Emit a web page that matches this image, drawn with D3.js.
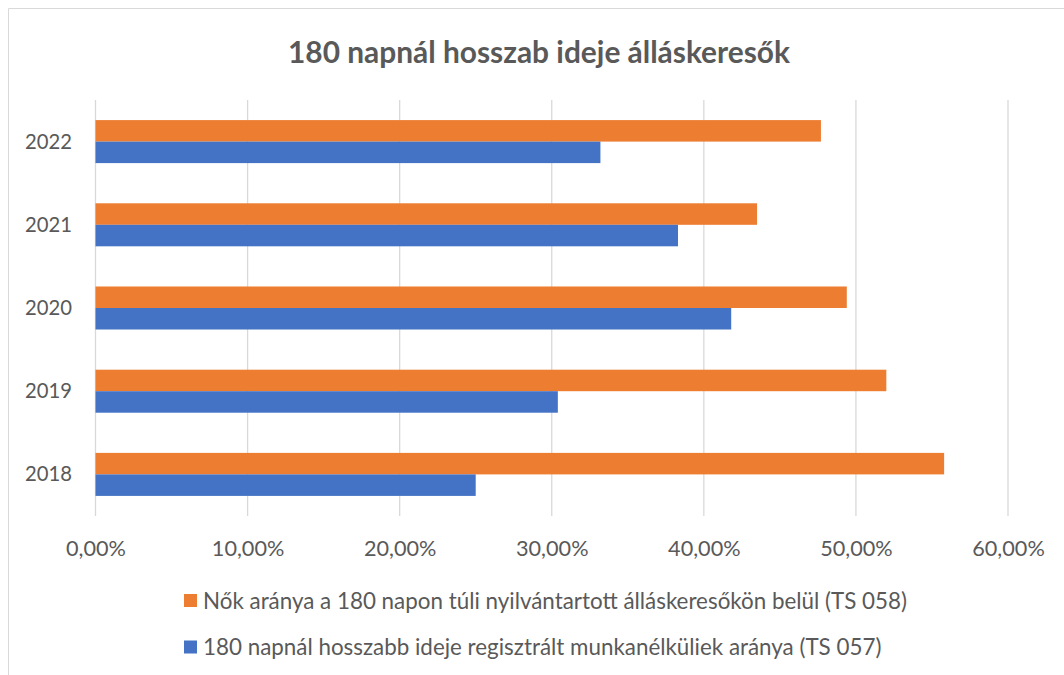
<!DOCTYPE html>
<html>
<head>
<meta charset="utf-8">
<script src="https://cdn.jsdelivr.net/npm/d3@7"></script>
<style>
  body { margin: 0; background: #fff; }
  text { font-family: Lato, "Open Sans", sans-serif; fill: #595959; }
</style>
</head>
<body>
<div class="canvas"></div>
<script>
const years = ['2022', '2021', '2020', '2019', '2018'];
const seriesNames = [
  'Nők aránya a 180 napon túli nyilvántartott álláskeresőkön belül (TS 058)',
  '180 napnál hosszabb ideje regisztrált munkanélküliek aránya (TS 057)'
];
// shares, same order as years
const womenShare = [0.477, 0.435, 0.494, 0.520, 0.558];
const longTermShare = [0.332, 0.383, 0.418, 0.304, 0.250];
const xTicks = [0, 0.1, 0.2, 0.3, 0.4, 0.5, 0.6];
const colours = ['#ED7D31', '#4472C4'];

const width = 1064, height = 675;
const plot = { left: 95.5, right: 1008, top: 100, bottom: 516 };

const svg = d3.select('.canvas')
  .append('svg')
  .attr('width', width)
  .attr('height', height);

// scale a text selection so that its first node is as wide as the reference
function fitWidth(sel, target, start) {
  sel.style('font-size', start + 'px');
  const w = sel.node().getComputedTextLength();
  sel.style('font-size', (start * target / w).toFixed(2) + 'px');
}

// chart frame
svg.append('path')
  .attr('d', `M8.5,${height} V8.5 H${width}`)
  .attr('fill', 'none')
  .attr('stroke', '#d9d9d9')
  .attr('stroke-width', 1);

const x = d3.scaleLinear().domain([0, 0.6]).range([plot.left, plot.right]);
const y = d3.scaleBand().domain(years).range([plot.top, plot.bottom])
  .paddingInner(0.483).paddingOuter(0.2415);
const ySub = d3.scaleBand().domain([0, 1]).range([0, y.bandwidth()]);

// gridlines
svg.append('g')
  .selectAll('line')
  .data(xTicks)
  .enter()
  .append('line')
  .attr('x1', d => x(d))
  .attr('x2', d => x(d))
  .attr('y1', plot.top)
  .attr('y2', plot.bottom)
  .attr('stroke', '#d9d9d9')
  .attr('stroke-width', 1.3);

const rows = years.map((yr, i) => ({ year: yr, values: [womenShare[i], longTermShare[i]] }));

const groups = svg.append('g')
  .selectAll('g')
  .data(rows)
  .enter()
  .append('g')
  .attr('transform', d => `translate(0, ${y(d.year)})`);

groups.selectAll('rect')
  .data(d => d.values)
  .enter()
  .append('rect')
  .attr('x', x(0))
  .attr('y', (d, i) => ySub(i))
  .attr('width', d => x(d) - x(0))
  .attr('height', ySub.bandwidth())
  .attr('fill', (d, i) => colours[i]);

// x axis labels
const fmt = d => d3.format('.2f')(d * 100).replace('.', ',') + '%';
const xAxis = d3.axisBottom(x).tickValues(xTicks).tickFormat(fmt).tickSize(0).tickPadding(0);
const xAxisGroup = svg.append('g')
  .attr('transform', `translate(0, ${plot.bottom})`)
  .call(xAxis);
xAxisGroup.select('.domain').remove();
const xLabels = xAxisGroup.selectAll('text')
  .attr('y', 32)
  .attr('dy', '0.35em')
  .style('font-family', 'Lato, sans-serif')
  .attr('fill', '#595959');
fitWidth(xLabels, 60, 20);

// y axis labels
const yAxis = d3.axisLeft(y).tickSize(0).tickPadding(0);
const yAxisGroup = svg.append('g')
  .attr('transform', `translate(72, 0)`)
  .call(yAxis);
yAxisGroup.select('.domain').remove();
const yLabels = yAxisGroup.selectAll('text')
  .attr('dy', '0.35em')
  .style('font-family', 'Lato, sans-serif')
  .attr('fill', '#595959');
fitWidth(yLabels, 47, 20);

// title
const title = svg.append('text')
  .attr('x', 539)
  .attr('y', 63)
  .attr('text-anchor', 'middle')
  .style('font-weight', 'bold')
  .text('180 napnál hosszab ideje álláskeresők');
fitWidth(title, 502, 26);

// legend
const legend = svg.selectAll('.legend')
  .data(seriesNames)
  .enter()
  .append('g')
  .attr('class', 'legend')
  .attr('transform', (d, i) => `translate(184, ${594 + i * 46.5})`);

legend.append('rect')
  .attr('width', 13)
  .attr('height', 13)
  .attr('fill', (d, i) => colours[i]);

const legendText = legend.append('text')
  .attr('x', 19)
  .attr('y', 6.5)
  .attr('dy', '0.36em')
  .text(d => d);
fitWidth(legendText, 704, 20);
</script>
</body>
</html>
